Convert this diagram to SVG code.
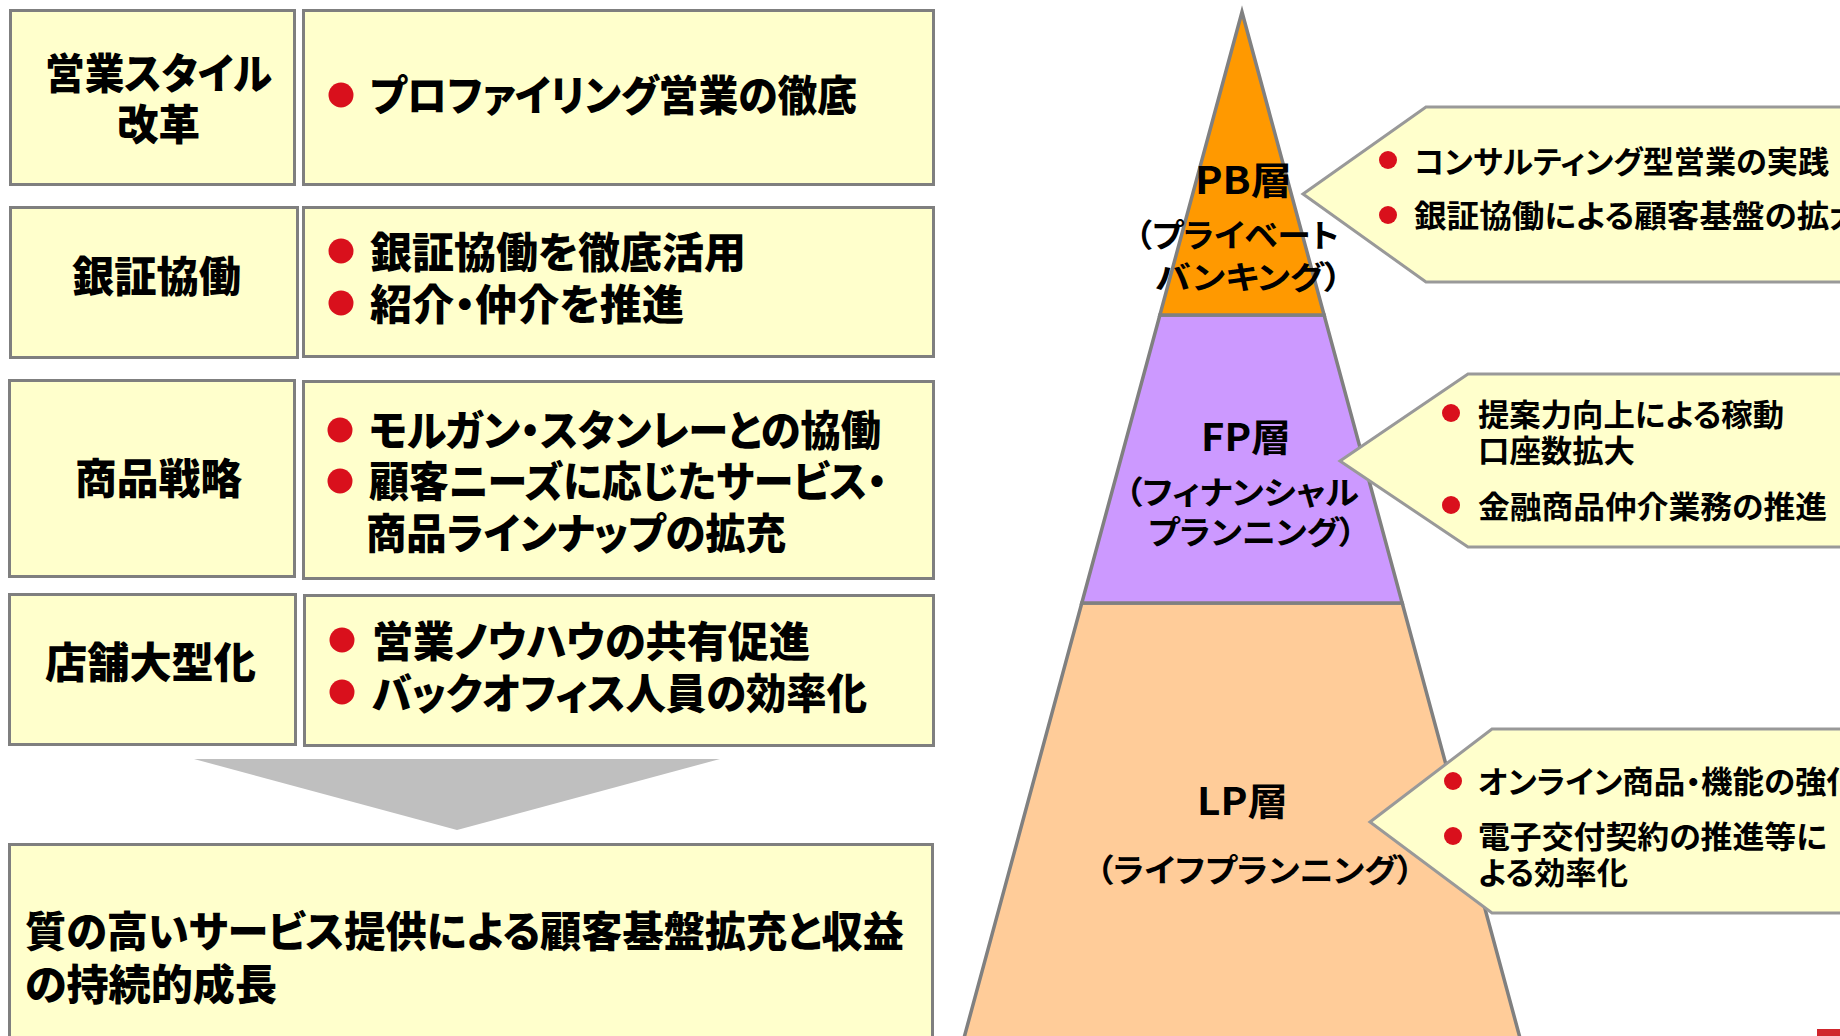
<svg xmlns="http://www.w3.org/2000/svg" width="1840" height="1036" viewBox="0 0 1840 1036">
<style>
  text { font-family: "Noto Sans CJK JP", "Noto Sans", sans-serif; font-weight: 700; fill: #000; font-feature-settings: "palt"; }
  .box { fill: #FFFFCC; stroke: #7F7F7F; stroke-width: 3; }
  .call { fill: #FFFFCC; stroke: #999999; stroke-width: 3; }
  .lay { stroke: #808080; stroke-width: 3.5; stroke-linejoin: miter; }
  .dot { fill: #D9101C; }
  .f42 { font-size: 42px; font-weight: 900; }
  .f38 { font-size: 38px; }
  .f32 { font-size: 32px; font-weight: 600; }
  .f31 { font-size: 31px; }
</style>
<rect width="1840" height="1036" fill="#FFFFFF"/>

<g id="row1">
  <rect class="box" x="10.5" y="10.5" width="284" height="174"/>
  <rect class="box" x="303.5" y="10.5" width="630" height="174"/>
  <text class="f42" x="45" y="89" textLength="227" lengthAdjust="spacingAndGlyphs">営業スタイル</text>
  <text class="f42" x="117" y="140" textLength="83" lengthAdjust="spacingAndGlyphs">改革</text>
  <circle class="dot" cx="341" cy="95" r="12.5"/>
  <text class="f42" x="370" y="111" textLength="487" lengthAdjust="spacingAndGlyphs">プロファイリング営業の徹底</text>
</g>

<g id="row2">
  <rect class="box" x="10.5" y="207.5" width="287" height="150"/>
  <rect class="box" x="303.5" y="207.5" width="630" height="149"/>
  <text class="f42" x="72" y="292" textLength="169" lengthAdjust="spacingAndGlyphs">銀証協働</text>
  <circle class="dot" cx="341" cy="251" r="12.5"/>
  <text class="f42" x="370" y="268" textLength="376" lengthAdjust="spacingAndGlyphs">銀証協働を徹底活用</text>
  <circle class="dot" cx="341" cy="303" r="12.5"/>
  <text class="f42" x="370" y="320" textLength="314" lengthAdjust="spacingAndGlyphs">紹介・仲介を推進</text>
</g>

<g id="row3">
  <rect class="box" x="9.5" y="380.5" width="285" height="196"/>
  <rect class="box" x="303.5" y="381.5" width="630" height="197"/>
  <text class="f42" x="75" y="494" textLength="167" lengthAdjust="spacingAndGlyphs">商品戦略</text>
  <circle class="dot" cx="340" cy="430" r="12.5"/>
  <text class="f42" x="369" y="446" textLength="512" lengthAdjust="spacingAndGlyphs">モルガン・スタンレーとの協働</text>
  <circle class="dot" cx="340" cy="481" r="12.5"/>
  <text class="f42" x="369" y="497" textLength="518" lengthAdjust="spacingAndGlyphs">顧客ニーズに応じたサービス・</text>
  <text class="f42" x="366" y="549" textLength="420" lengthAdjust="spacingAndGlyphs">商品ラインナップの拡充</text>
</g>

<g id="row4">
  <rect class="box" x="9.5" y="594.5" width="286" height="150"/>
  <rect class="box" x="304.5" y="595.5" width="629" height="150"/>
  <text class="f42" x="45" y="678" textLength="211" lengthAdjust="spacingAndGlyphs">店舗大型化</text>
  <circle class="dot" cx="342" cy="640" r="12.5"/>
  <text class="f42" x="372" y="657" textLength="438" lengthAdjust="spacingAndGlyphs">営業ノウハウの共有促進</text>
  <circle class="dot" cx="342" cy="692" r="12.5"/>
  <text class="f42" x="372" y="709" textLength="495" lengthAdjust="spacingAndGlyphs">バックオフィス人員の効率化</text>
</g>

<g id="connectors">
  <polygon points="194,759 720,759 457,830" fill="#BFBFBF"/>
</g>

<g id="result">
  <rect class="box" x="9.5" y="844.5" width="923" height="200"/>
  <text class="f42" x="25" y="947" textLength="879" lengthAdjust="spacingAndGlyphs">質の高いサービス提供による顧客基盤拡充と収益</text>
  <text class="f42" x="25" y="1000" textLength="252" lengthAdjust="spacingAndGlyphs">の持続的成長</text>
</g>

<g id="pyramid">
  <polygon class="lay" points="962.1,1045 1081.8,603 1402.2,603 1521.9,1045" fill="#FFCC99"/>
  <polygon class="lay" points="1081.8,603 1159.9,315 1324.1,315 1402.2,603" fill="#CC99FF"/>
  <polygon class="lay" points="1159.9,315 1242,12 1324.1,315" fill="#FF9900"/>
</g>

<g id="callout-pb">
  <polygon class="call" points="1303,194 1426,107 1850,107 1850,282 1426,282"/>
  <circle class="dot" cx="1388" cy="160" r="9"/>
  <text class="f31" x="1414" y="173" textLength="415" lengthAdjust="spacingAndGlyphs">コンサルティング型営業の実践</text>
  <circle class="dot" cx="1388" cy="215" r="9"/>
  <text class="f31" x="1414" y="227" textLength="448" lengthAdjust="spacingAndGlyphs">銀証協働による顧客基盤の拡大</text>
</g>

<g id="callout-fp">
  <polygon class="call" points="1340,461 1468,374 1850,374 1850,547 1468,547"/>
  <circle class="dot" cx="1451" cy="413" r="9"/>
  <text class="f31" x="1478" y="426" textLength="306" lengthAdjust="spacingAndGlyphs">提案力向上による稼動</text>
  <text class="f31" x="1478" y="462" textLength="157" lengthAdjust="spacingAndGlyphs">口座数拡大</text>
  <circle class="dot" cx="1451" cy="505" r="9"/>
  <text class="f31" x="1478" y="518" textLength="349" lengthAdjust="spacingAndGlyphs">金融商品仲介業務の推進</text>
</g>

<g id="callout-lp">
  <polygon class="call" points="1370,822 1492,729 1850,729 1850,913 1492,913"/>
  <circle class="dot" cx="1453" cy="781" r="9"/>
  <text class="f31" x="1478" y="793" textLength="380" lengthAdjust="spacingAndGlyphs">オンライン商品・機能の強化</text>
  <circle class="dot" cx="1453" cy="836" r="9"/>
  <text class="f31" x="1478" y="848" textLength="349" lengthAdjust="spacingAndGlyphs">電子交付契約の推進等に</text>
  <text class="f31" x="1478" y="884" textLength="150" lengthAdjust="spacingAndGlyphs">よる効率化</text>
</g>

<g id="layer-labels">
  <text class="f38" x="1195" y="194" textLength="97" lengthAdjust="spacingAndGlyphs">PB層</text>
  <text class="f32" x="1135" y="247" textLength="204" lengthAdjust="spacingAndGlyphs">（プライベート</text>
  <text class="f32" x="1155" y="289" textLength="187" lengthAdjust="spacingAndGlyphs">バンキング）</text>
  <text class="f38" x="1201" y="451" textLength="90" lengthAdjust="spacingAndGlyphs">FP層</text>
  <text class="f32" x="1125" y="504" textLength="234" lengthAdjust="spacingAndGlyphs">（フィナンシャル</text>
  <text class="f32" x="1148" y="544" textLength="208" lengthAdjust="spacingAndGlyphs">プランニング）</text>
  <text class="f38" x="1197" y="815" textLength="91" lengthAdjust="spacingAndGlyphs">LP層</text>
  <text class="f32" x="1096" y="882" textLength="318" lengthAdjust="spacingAndGlyphs">（ライフプランニング）</text>
</g>

<rect id="corner-mark" x="1817" y="1029" width="23" height="8" fill="#D0262D"/>
</svg>
